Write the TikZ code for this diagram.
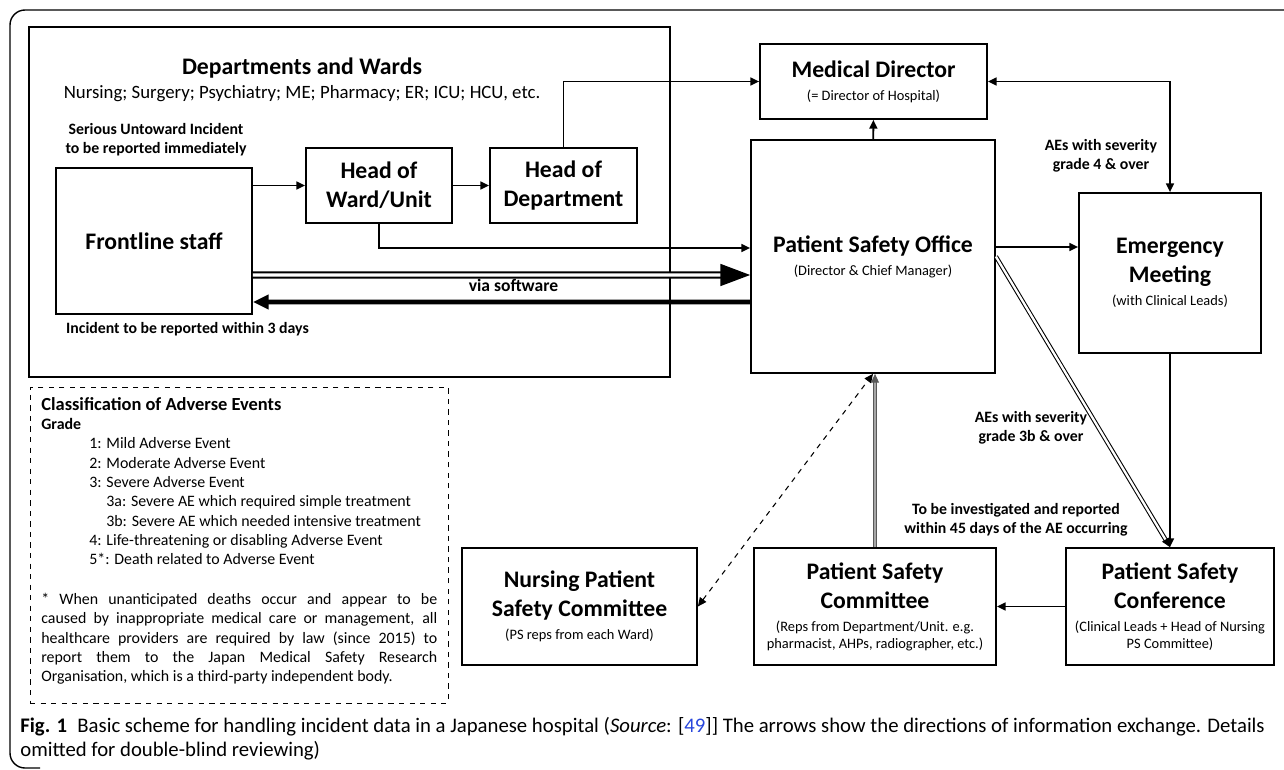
\documentclass[tikz,border=0pt]{standalone}
\usepackage{fontspec}
\setmainfont{Carlito}
\usepackage{xcolor}
\usetikzlibrary{arrows.meta, positioning}
\definecolor{linkblue}{RGB}{40, 70, 220}
\newcommand{\subfnt}{\fontsize{8.2}{10}\selectfont\mdseries}

\begin{document}
\begin{tikzpicture}[
  x=0.02cm, y=-0.02cm,
  box/.style={rectangle, draw, line width=1pt, fill=white, align=center,
              font=\fontsize{13.5}{16.5}\selectfont\bfseries, inner sep=1pt},
  note/.style={font=\fontsize{9}{10.8}\selectfont\bfseries, align=center},
  arr/.style={-{Triangle[length=5pt, width=4.5pt]}, line width=1pt},
  arrs/.style={{Triangle[length=5pt, width=4.5pt]}-{Triangle[length=5pt, width=4.5pt]}, line width=1pt},
  dbl/.style={double, line width=0.6pt, double distance=1.3pt}
]
  \useasboundingbox (0,0) rectangle (1284,770);
  % outer frame of the figure
  \draw[line width=0.8pt, rounded corners=0.3cm] (1284,10) -- (10,10) -- (10,768) -- (40,768);

  % departments and wards
  \node[draw, line width=1pt, minimum width=12.82cm, minimum height=7cm] (dept) at (349.5,202) {};
  \node[font=\fontsize{13.5}{16}\selectfont\bfseries] (depttl) at (302,68) {Departments and Wards};
  \node[font=\fontsize{10.7}{13}\selectfont] (deptlst) at (302,94)
    {Nursing; Surgery; Psychiatry; ME; Pharmacy; ER; ICU; HCU, etc.};

  \node[box, minimum width=3.92cm, minimum height=2.92cm] (fls) at (154,241) {Frontline staff};
  \node[box, minimum width=2.92cm, minimum height=1.5cm] (how) at (379,185.5) {Head of\\Ward/Unit};
  \node[box, minimum width=2.94cm, minimum height=1.5cm] (hod) at (563.5,185.5) {Head of\\Department};

  \node[note] (serious) at (156,140) {Serious Untoward Incident\\to be reported immediately};
  \node[note, anchor=west] (within) at (60,329) {Incident to be reported within 3 days};

  % hospital level
  \node[box, minimum width=4.54cm, minimum height=1.5cm] (md) at (873.5,81.5)
    {Medical Director\\[-3.5pt]{\subfnt (= Director of Hospital)}};
  \node[box, minimum width=4.88cm, minimum height=4.66cm] (pso) at (873,256.5)
    {Patient Safety Office\\[-3.5pt]{\subfnt (Director \& Chief Manager)}};
  \node[box, minimum width=3.64cm, minimum height=3.2cm] (em) at (1170,273)
    {Emergency\\Meeting\\[-3.5pt]{\subfnt (with Clinical Leads)}};

  \node[box, minimum width=4.16cm, minimum height=2.34cm] (psconf) at (1170,606.5)
    {Patient Safety\\Conference\\[-3.5pt]{\subfnt (Clinical Leads + Head of Nursing}\\[-6.8pt]{\subfnt PS Committee)}};
  \node[box, minimum width=4.84cm, minimum height=2.34cm] (psc) at (875,606.5)
    {Patient Safety\\Committee\\[-3.5pt]{\subfnt (Reps from Department/Unit. e.g.}\\[-6.8pt]{\subfnt pharmacist, AHPs, radiographer, etc.)}};
  \node[box, minimum width=4.7cm, minimum height=2.34cm] (npsc) at (579.5,606.5)
    {Nursing Patient\\Safety Committee\\[-3.5pt]{\subfnt (PS reps from each Ward)}};

  \node[note] (grfour) at (1101,156) {AEs with severity\\grade 4 \& over};
  \node[note] (grthree) at (1031,428) {AEs with severity\\grade 3b \& over};
  \node[note] (days) at (1016,520) {To be investigated and reported\\within 45 days of the AE occurring};

  % classification of adverse events
  \node[draw, dashed, line width=0.5pt, minimum width=8.36cm, minimum height=6.32cm] (clsf) at (239,545) {};
  \node[anchor=north west, align=left, inner sep=0pt, font=\fontsize{9.05}{11}\selectfont] (grades) at (41,397)
    {{\fontsize{10.5}{12}\selectfont\bfseries Classification of Adverse Events}\\
     {\bfseries Grade}\\
     \hspace*{0.96cm}1: Mild Adverse Event\\
     \hspace*{0.96cm}2: Moderate Adverse Event\\
     \hspace*{0.96cm}3: Severe Adverse Event\\
     \hspace*{1.3cm}3a: Severe AE which required simple treatment\\
     \hspace*{1.3cm}3b: Severe AE which needed intensive treatment\\
     \hspace*{0.96cm}4: Life-threatening or disabling Adverse Event\\
     \hspace*{0.96cm}5*: Death related to Adverse Event};
  \node[anchor=north west, align=justify, text width=7.92cm, inner sep=0pt,
        font=\fontsize{9.05}{11}\selectfont] (fnote) at (41,593)
    {* When unanticipated deaths occur and appear to be\linebreak
     caused by inappropriate medical care or management, all\linebreak
     healthcare providers are required by law (since 2015) to\linebreak
     report them to the Japan Medical Safety Research\linebreak
     Organisation, which is a third-party independent body.};

  % connectors
  \draw[arr] (fls.east |- how) -- (how);
  \draw[arr] (how) -- (hod);
  \draw[arr] (hod.north) |- (md);
  \draw[arr] (how.south) |- ([yshift=0.17cm]pso.west);
  \draw[double, line width=1.1pt, double distance=1.8pt, -{Triangle[length=17pt, width=12.5pt]}]
    ([yshift=-0.68cm]fls.east) -- ([yshift=-0.37cm]pso.west);
  \draw[line width=2.6pt, -{Triangle[length=9pt, width=8pt]}] ([yshift=-0.91cm]pso.west) -- ([yshift=-1.22cm]fls.east)
    node[pos=0.476, above=1pt, font=\fontsize{10}{12}\selectfont\bfseries] (soft) {via software};
  \draw[arr] (pso) -- (md);
  \draw[arr] ([yshift=0.19cm]pso.east) -- ([yshift=0.19cm]pso.east -| em.west);
  \draw[arrs] (md) -| (em);
  \draw[arr] (em) -- (psconf);
  \draw[dbl, -{Triangle[length=5pt, width=4.5pt]}] (pso.east) -- (psconf.north);
  \draw[arr] (psconf) -- (psc);
  \draw[double=black!35, draw=black!65, line width=0.6pt, double distance=1pt,
        -{Triangle[length=5pt, width=4.5pt]}] (psc.north) -- (psc.north |- pso.south);
  \draw[dashed, line width=0.6pt, {Triangle[length=5pt, width=4.5pt]}-{Triangle[length=5pt, width=4.5pt]}]
    (npsc.east) -- (pso.south);

  % caption
  \node[anchor=north west, align=left, inner sep=0pt, font=\fontsize{11.8}{13.7}\selectfont] (cap) at (20,717)
    {\textbf{Fig. 1}\enspace Basic scheme for handling incident data in a Japanese hospital (\textit{Source}: [\textcolor{linkblue}{49}]] The arrows show the directions of information exchange. Details\\
     omitted for double-blind reviewing)};
\end{tikzpicture}
\end{document}
